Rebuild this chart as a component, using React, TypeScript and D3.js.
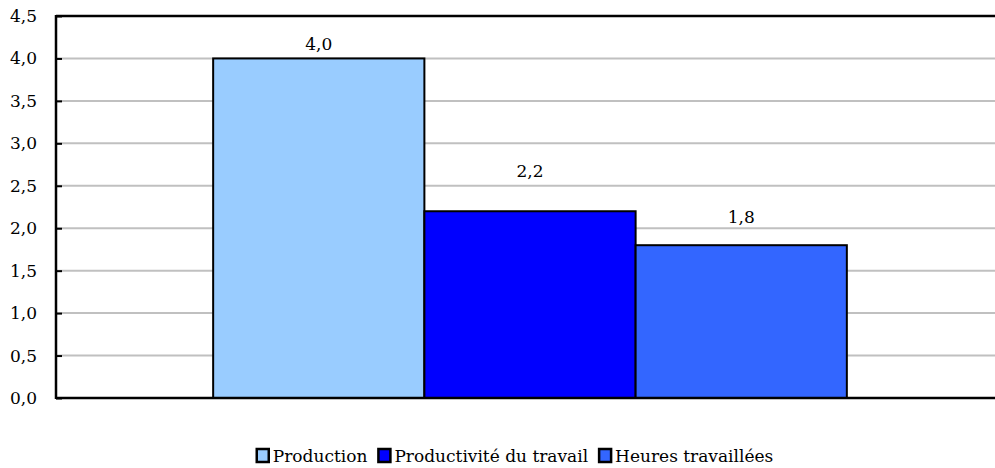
import { useEffect, useRef } from "react";
import * as d3 from "d3";

const series = ["Production", "Productivité du travail", "Heures travaillées"];
const values = [4.0, 2.2, 1.8];
const colors = ["#99CCFF", "#0000FF", "#3366FF"];
const yTicks = [0, 0.5, 1, 1.5, 2, 2.5, 3, 3.5, 4, 4.5];

const W = 995;
const H = 468;
const margin = { top: 16, right: -9, bottom: 70, left: 56 };
// Excel places the value labels at uneven heights; gap (px) from label baseline to bar top
const labelGaps = [8, 34, 22];
const FONT = "DejaVu Serif";

export default function App() {
    const ref = useRef<SVGSVGElement | null>(null);

    useEffect(() => {
        if (!ref.current) return;
        const svg = d3.select(ref.current);
        svg.selectAll("*").remove();

        const x0 = margin.left;
        const x1 = W - margin.right;
        const y0 = H - margin.bottom;

        const y = d3.scaleLinear().domain([0, 4.5]).range([y0, margin.top]);
        const group = d3.scaleBand<string>().domain(["g"]).range([x0, x1]).paddingOuter(0.248).paddingInner(0);
        const x = d3.scaleBand<string>().domain(series).range([group("g")!, group("g")! + group.bandwidth()]);
        const fmt = (d: number) => d3.format(".1f")(d).replace(".", ",");

        // gridlines
        svg.append("g")
            .selectAll("line")
            .data(yTicks.filter(t => t > 0 && t < 4.5))
            .enter()
            .append("line")
            .attr("x1", x0)
            .attr("x2", W)
            .attr("y1", d => y(d))
            .attr("y2", d => y(d))
            .attr("stroke", "#c0c0c0")
            .attr("stroke-width", 2);

        // bars
        svg.append("g")
            .selectAll("rect")
            .data(values)
            .enter()
            .append("rect")
            .attr("x", (_, i) => x(series[i])!)
            .attr("y", d => y(d))
            .attr("width", x.bandwidth())
            .attr("height", d => y0 - y(d))
            .attr("fill", (_, i) => colors[i])
            .attr("stroke", "#000")
            .attr("stroke-width", 2);

        // value labels
        svg.append("g")
            .selectAll("text")
            .data(values)
            .enter()
            .append("text")
            .attr("x", (_, i) => x(series[i])! + x.bandwidth() / 2)
            .attr("y", (d, i) => y(d) - labelGaps[i])
            .attr("text-anchor", "middle")
            .attr("font-family", FONT)
            .attr("font-size", 17)
            .text(d => fmt(d));

        // frame
        const axis = svg.append("g").attr("stroke", "#000").attr("stroke-width", 2.5);
        axis.append("line").attr("x1", x0).attr("x2", W).attr("y1", y(4.5)).attr("y2", y(4.5));
        axis.append("line").attr("x1", x0).attr("x2", x0).attr("y1", y(4.5) - 1).attr("y2", y0 + 1);
        axis.append("line").attr("x1", x0).attr("x2", W).attr("y1", y0).attr("y2", y0);

        const yAxis = d3.axisRight(y).tickValues(yTicks).tickSize(6).tickFormat(() => "");
        const gy = svg.append("g").attr("transform", `translate(${x0},0)`).call(yAxis);
        gy.select(".domain").remove();
        gy.selectAll("line").attr("stroke", "#000").attr("stroke-width", 2);

        svg.append("g")
            .selectAll("text")
            .data(yTicks)
            .enter()
            .append("text")
            .attr("x", 37)
            .attr("y", d => y(d))
            .attr("dy", "0.35em")
            .attr("text-anchor", "end")
            .attr("font-family", FONT)
            .attr("font-size", 17)
            .text(d => fmt(d));

        // legend
        const legend = svg.append("g").attr("font-family", FONT).attr("font-size", 17);
        const items = legend.selectAll("g").data(series).enter().append("g");
        items.append("rect")
            .attr("y", 1)
            .attr("width", 12)
            .attr("height", 13)
            .attr("fill", (_, i) => colors[i])
            .attr("stroke", "#000")
            .attr("stroke-width", 2.5);
        items.append("text").attr("x", 16).attr("y", 14).text(d => d);

        const widths: number[] = [];
        items.each(function () {
            widths.push((this as SVGGElement).getBBox().width);
        });
        const gap = 11;
        const total = d3.sum(widths) + gap * (widths.length - 1);
        let offset = 515 - total / 2;
        items.attr("transform", (_, i) => {
            const t = `translate(${offset},${448})`;
            offset += widths[i] + gap;
            return t;
        });
    }, []);

    return (
        <svg
            ref={ref}
            width={W}
            height={H}
            style={{ position: "absolute", left: 0, top: 0, background: "#fff" }}
        />
    );
}
